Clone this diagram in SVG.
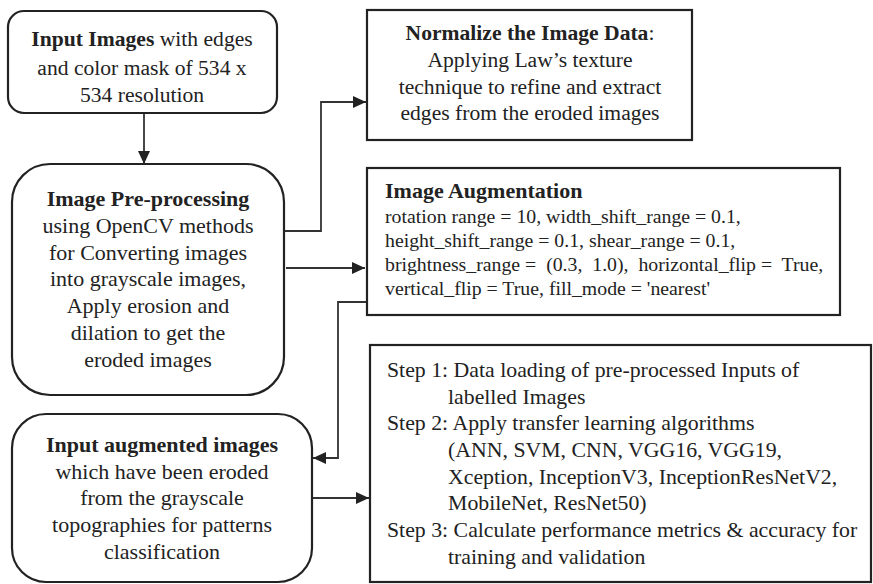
<svg xmlns="http://www.w3.org/2000/svg" width="873" height="584" viewBox="0 0 873 584">
  <defs>
    <marker id="arrow" viewBox="0 0 13 12" refX="13" refY="6" markerWidth="13" markerHeight="12" markerUnits="userSpaceOnUse" orient="auto">
      <path d="M0,0 L13,6 L0,12 z" fill="#222"/>
    </marker>
    <style>
      .box { fill: #fff; stroke: #222; stroke-width: 2.2; }
      .conn { fill: none; stroke: #333; stroke-width: 1.8; }
      text { font-family: "Liberation Serif", "Times New Roman", serif; fill: #222; }
      .c { text-anchor: middle; font-size: 22px; }
      .s { font-size: 21.6px; }
      .aug { font-size: 19.8px; }
      .augh { font-size: 22px; font-weight: bold; }
      .step { font-size: 21.8px; }
      .b { font-weight: bold; }
    </style>
  </defs>

  <rect width="873" height="584" fill="#fff"/>

  <!-- connectors -->
  <g id="connectors">
    <path class="conn" d="M144,113 V164" marker-end="url(#arrow)"/>
    <path class="conn" d="M284,231 H321 V102 H366" marker-end="url(#arrow)"/>
    <path class="conn" d="M286,268 H365" marker-end="url(#arrow)"/>
    <path class="conn" d="M367,302 H338 V458 H313" marker-end="url(#arrow)"/>
    <path class="conn" d="M313,498 H369" marker-end="url(#arrow)"/>
  </g>

  <g id="input-images">
    <rect class="box" x="8" y="11" width="269" height="102" rx="16"/>
    <text class="c s" x="142" y="46"><tspan class="b">Input Images</tspan> with edges</text>
    <text class="c s" x="142" y="75">and color mask of 534 x</text>
    <text class="c s" x="142" y="102">534 resolution</text>
  </g>

  <g id="pre-processing">
    <rect class="box" x="12" y="164" width="272" height="231" rx="38"/>
    <text class="c b" x="148" y="206">Image Pre-processing</text>
    <text class="c" x="148" y="233">using OpenCV methods</text>
    <text class="c" x="148" y="260">for Converting images</text>
    <text class="c" x="148" y="286">into grayscale images,</text>
    <text class="c" x="148" y="313">Apply erosion and</text>
    <text class="c" x="148" y="340">dilation to get the</text>
    <text class="c" x="148" y="367">eroded images</text>
  </g>

  <g id="augmented-input">
    <rect class="box" x="12" y="414" width="300" height="168" rx="34"/>
    <text class="c b" x="162" y="452">Input augmented images</text>
    <text class="c" x="162" y="479">which have been eroded</text>
    <text class="c" x="162" y="505">from the grayscale</text>
    <text class="c" x="162" y="532">topographies for patterns</text>
    <text class="c" x="162" y="559">classification</text>
  </g>

  <g id="normalize">
    <rect class="box" x="367" y="10" width="325" height="130"/>
    <text class="c s" x="530" y="40"><tspan class="b">Normalize the Image Data</tspan>:</text>
    <text class="c s" x="530" y="67">Applying Law’s texture</text>
    <text class="c s" x="530" y="94">technique to refine and extract</text>
    <text class="c s" x="530" y="120">edges from the eroded images</text>
  </g>

  <g id="augmentation">
    <rect class="box" x="367" y="168" width="473" height="147"/>
    <text class="augh" x="385" y="198">Image Augmentation</text>
    <text class="aug" x="385" y="223">rotation range = 10, width_shift_range = 0.1,</text>
    <text class="aug" x="385" y="247">height_shift_range = 0.1, shear_range = 0.1,</text>
    <text class="aug" x="385" y="271" xml:space="preserve">brightness_range =  (0.3,  1.0),  horizontal_flip =  True,</text>
    <text class="aug" x="385" y="295">vertical_flip = True, fill_mode = 'nearest'</text>
  </g>

  <g id="training-steps">
    <rect class="box" x="370" y="345" width="501" height="237"/>
    <text class="step" x="387" y="377">Step 1: Data loading of pre-processed Inputs of</text>
    <text class="step" x="448" y="404">labelled Images</text>
    <text class="step" x="387" y="430">Step 2: Apply transfer learning algorithms</text>
    <text class="step" x="448" y="457">(ANN, SVM, CNN, VGG16, VGG19,</text>
    <text class="step" x="448" y="484">Xception, InceptionV3, InceptionResNetV2,</text>
    <text class="step" x="448" y="510">MobileNet, ResNet50)</text>
    <text class="step" x="387" y="537">Step 3: Calculate performance metrics &amp; accuracy for</text>
    <text class="step" x="448" y="564">training and validation</text>
  </g>
</svg>
